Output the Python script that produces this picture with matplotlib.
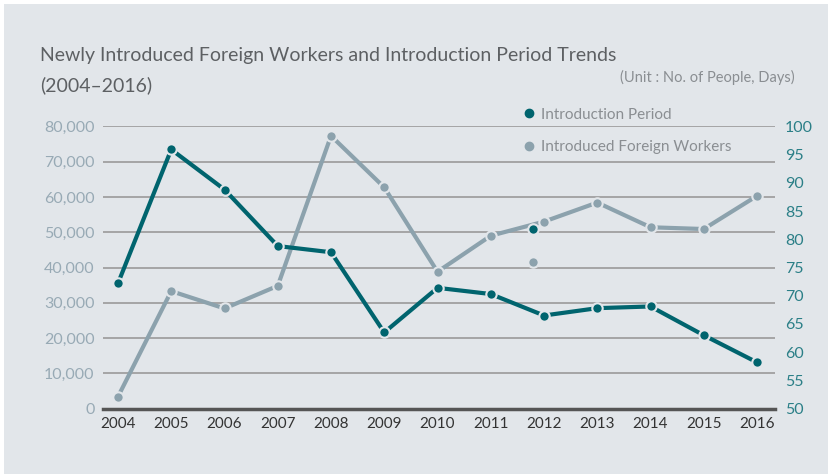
import matplotlib.pyplot as plt
from matplotlib.lines import Line2D
from matplotlib.patches import Rectangle

# data
years = [2004, 2005, 2006, 2007, 2008, 2009, 2010, 2011, 2012, 2013, 2014, 2015, 2016]
workers = [3400, 33300, 28400, 34800, 77300, 62700, 38800, 49000, 53000, 58400, 51400, 50900, 60300]
period = [72.2, 95.9, 88.8, 78.8, 77.7, 63.5, 71.4, 70.3, 66.5, 67.8, 68.1, 63.0, 58.2]

# two loose markers sitting near 2012 in the original
stray_x = [2011.8]
stray_workers = [41600]
stray_period = [81.8]

left_ticks = [0, 10000, 20000, 30000, 40000, 50000, 60000, 70000, 80000]
right_ticks = [50, 55, 60, 65, 70, 75, 80, 85, 90, 95, 100]

BG = '#e2e6ea'
TEAL = '#00646e'
GRAY = '#8ca2ad'
FONT = ['Lato', 'DejaVu Sans']

plt.rcParams['font.family'] = FONT

fig = plt.figure(figsize=(8.29, 4.74), dpi=100)
fig.patch.set_facecolor('white')
fig.patches.append(Rectangle((4 / 829, 0), 1, 1 - 4 / 474, transform=fig.transFigure,
                             facecolor=BG, edgecolor='none', zorder=-10))

ax = fig.add_axes([0.1239, 0.1378, 0.811, 0.5957])
ax.set_facecolor('none')
ax.set_xlim(2003.713, 2016.338)
ax.set_ylim(0, 80000)
ax.set_yticks(left_ticks)
ax.set_yticklabels([f'{v:,}' for v in left_ticks])
ax.set_xticks(years)
ax.set_xticklabels([str(y) for y in years])
ax.tick_params(axis='y', length=0, pad=6, labelsize=11.5, labelcolor='#98aab5')
ax.tick_params(axis='x', length=0, pad=6, labelsize=11, labelcolor='#333333')
ax.grid(axis='y', color='#a0a0a0', linewidth=1.3)
ax.set_axisbelow(True)
for s in ['top', 'left', 'right']:
    ax.spines[s].set_visible(False)
ax.spines['bottom'].set_color('#555555')
ax.spines['bottom'].set_linewidth(2.5)

ax.plot(years, workers, color=GRAY, linewidth=3, marker='o', markersize=7.5,
        markeredgecolor=BG, markeredgewidth=1.5, zorder=3)
ax.plot(stray_x, stray_workers, linestyle='none', color=GRAY, marker='o', markersize=7.5,
        markeredgecolor=BG, markeredgewidth=1.5, zorder=3)

ax2 = ax.twinx()
ax2.set_ylim(50, 100)
ax2.set_yticks(right_ticks)
ax2.tick_params(axis='y', length=0, pad=7, labelsize=11.5, labelcolor='#2b7f87')
for s in ax2.spines.values():
    s.set_visible(False)
ax2.plot(years, period, color=TEAL, linewidth=3, marker='o', markersize=7.5,
         markeredgecolor=BG, markeredgewidth=1.5, zorder=4)
ax2.plot(stray_x, stray_period, linestyle='none', color=TEAL, marker='o', markersize=7.5,
         markeredgecolor=BG, markeredgewidth=1.5, zorder=4)

handles = [Line2D([], [], linestyle='none', marker='o', color=TEAL, markersize=6),
           Line2D([], [], linestyle='none', marker='o', color=GRAY, markersize=6)]
leg = ax2.legend(handles, ['Introduction Period', 'Introduced Foreign Workers'],
                 loc='upper left', bbox_to_anchor=(0.6, 1.115), frameon=False,
                 prop={'size': 11},
                 handletextpad=0.2, labelspacing=1.2, handlelength=1.2)
for t in leg.get_texts():
    t.set_color('#8a8e92')

fig.text(40 / 829, 1 - 55 / 474, 'Newly Introduced Foreign Workers and Introduction Period Trends',
         fontsize=14, color='#5d6063', va='center', ha='left')
fig.text(40 / 829, 1 - 85 / 474, '(2004\u20132016)',
         fontsize=14, color='#5d6063', va='center', ha='left')
fig.text(795 / 829, 1 - 77 / 474, '(Unit : No. of People, Days)',
         fontsize=10.5, color='#8a8e92', va='center', ha='right')

fig.savefig('out.png', dpi=100, facecolor=fig.get_facecolor())
